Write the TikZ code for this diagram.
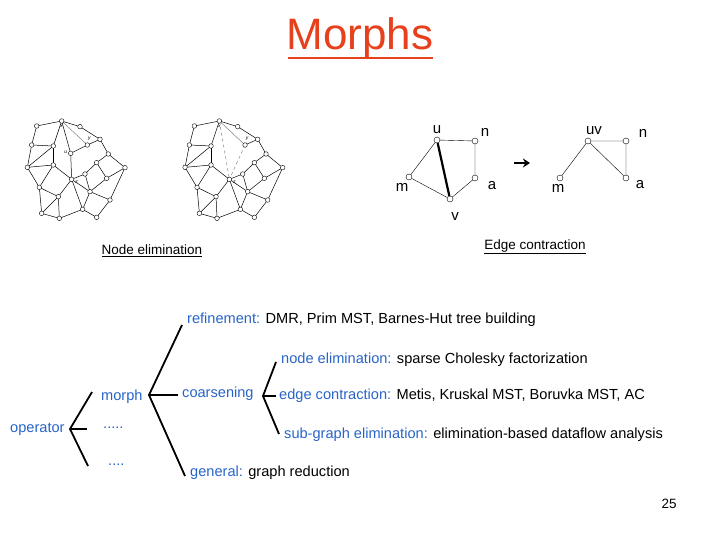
\documentclass[tikz,border=0pt]{standalone}
\usepackage{fontspec}
\setmainfont{Liberation Sans}
\usetikzlibrary{arrows.meta}
\definecolor{tblue}{RGB}{40,100,200}
\definecolor{tred}{RGB}{230,64,28}
\begin{document}
\begin{tikzpicture}[x=1pt,y=-1pt,
  v/.style={circle,draw,inner sep=0pt,minimum size=6pt,fill=white},
  sv/.style={circle,draw,inner sep=0pt,minimum size=4.6pt,fill=white,line width=0.4pt},
  lbl/.style={font=\fontsize{15}{17}\selectfont},
  tb/.style={font=\fontsize{14.6}{16}\selectfont,anchor=west,inner sep=0pt},
  tl/.style={line width=1.8pt}]
\useasboundingbox (0,0) rectangle (720,540);
\node[text=tred,font=\fontsize{44}{48}\selectfont] (title) at (360,38) {Morphs};
\draw[tred,line width=1.2pt] (288,58) -- (433,58);
% meshes
\foreach \dx/\right in {0/0,157.7/1}{
\begin{scope}[xshift=\dx]
\foreach \n/\px/\py in {A/110/78,X/185/63,B/240/80,C/300/118,Y/262/135,D/95/135,E/160/138,F/325/162,G/82/202,H/160/195,Z/215/238,I/290/188,J/375/203,K/255/222,L/320/235,M/118/262,N/175/290,O/270/275,P/330/300,Q/125/340,R/178/355,S/248/328,T/290/352}
  \coordinate (m\n) at ({\px/3},{\py/3+100});
\ifnum\right=0 \coordinate (mU) at ({212/3},{160/3+100}); \fi
\begin{scope}[line width=0.5pt]
\foreach \a/\b in {A/X,X/B,B/C,C/Y,A/D,D/E,D/G,E/G,E/H,G/H,G/M,H/Z,X/E,C/F,F/I,F/J,I/K,K/Z,I/L,J/L,J/P,K/O,Z/O,L/O,O/P,O/S,M/N,M/Q,N/Q,N/R,Q/R,R/S,S/T,T/P,Z/N,Z/S,H/M}
  \draw (m\a) -- (m\b);
\draw[gray] (mX) -- (mY);
\ifnum\right=0
  \draw (mX) -- (mU) -- (mZ); \draw (mU) -- (mY); \draw[line width=1pt] (mE)--(mH);
\else
  \draw[gray,dashed] (mX) -- (mZ); \draw[gray,dashed] (mY) -- (mZ);
\fi
\foreach \n in {A,X,B,C,Y,D,E,F,G,H,Z,I,J,K,L,M,N,O,P,Q,R,S,T} \node[sv] at (m\n) {};
\ifnum\right=0 \node[sv] at (mU) {}; \node[font=\tiny\itshape] at ([xshift=-5pt,yshift=1pt]mU) {u};\fi
\node[font=\tiny\itshape] at ([yshift=-5pt]mX) {x};
\node[font=\tiny\itshape] at ([xshift=2pt,yshift=6pt]mY) {y};
\node[font=\tiny\itshape] at ([xshift=5pt,yshift=-3pt]mZ) {z};
\end{scope}
\end{scope}}
% edge contraction graphs
\node[v] (u) at (437,140) {};
\node[v] (n) at (475,141) {};
\node[v] (m) at (409,177) {};
\node[v] (a) at (475,178) {};
\node[v] (vv) at (450,199) {};
\draw (u) -- (n) -- (a) -- (vv) -- (m) -- (u);
\draw[line width=2.2pt] (u) -- (vv);
\node[lbl] (lu) at (437,130) {u};
\node[lbl] (ln) at (485,132) {n};
\node[lbl] (lm) at (402,187) {m};
\node[lbl] (la) at (492,186) {a};
\node[lbl] (lv) at (455,217) {v};
\coordinate (ar1) at (514,163); \coordinate (ar2) at (530,163);
\draw[line width=2pt,-{Stealth[length=7pt,width=9pt]}] (ar1) -- (ar2);
\node[v] (uv) at (588,141) {};
\node[v] (n2) at (626,141) {};
\node[v] (m2) at (560,178) {};
\node[v] (a2) at (626,178) {};
\draw (uv) -- (n2) -- (a2) -- (uv) -- (m2);
\node[lbl] (luv) at (594,131) {uv};
\node[lbl] (ln2) at (643,133) {n};
\node[lbl] (lm2) at (558,188) {m};
\node[lbl] (la2) at (640,185) {a};
\node[font=\fontsize{13.5}{15}\selectfont] (ne) at (152,251) {\underline{Node elimination}};
\node[font=\fontsize{13.5}{15}\selectfont] (ec) at (535,247) {\underline{Edge contraction}};
% tree
\node[tb,text=tblue] (op) at (10,429) {operator};
\node[tb,text=tblue] (morph) at (101,397) {morph};
\node[tb,text=tblue] (d1) at (103,428) {.....};
\node[tb,text=tblue] (d2) at (108,465) {....};
\node[tb,text=tblue] (coars) at (182,394) {coarsening};
\node[tb] (ref) at (187,320) {\textcolor{tblue}{refinement:} DMR, Prim MST, Barnes-Hut tree building};
\node[tb] (nel) at (281,360) {\textcolor{tblue}{node elimination:} sparse Cholesky factorization};
\node[tb] (edc) at (279,396) {\textcolor{tblue}{edge contraction:} Metis, Kruskal MST, Boruvka MST, AC};
\node[tb] (sub) at (284,435) {\textcolor{tblue}{sub-graph elimination:} elimination-based dataflow analysis};
\node[tb] (gen) at (190,473) {\textcolor{tblue}{general:} graph reduction};
\coordinate (o) at (70,429);
\draw[tl] (92,392) -- (o) -- (88,466); \draw[tl] (o) -- (87,429);
\coordinate (mp) at (149,395);
\draw[tl] (182,325) -- (mp) -- (185,476); \draw[tl] (mp) -- (178,395);
\coordinate (cp) at (263,396);
\draw[tl] (276,362) -- (cp) -- (279,434); \draw[tl] (cp) -- (276,396);
\node[font=\fontsize{13.5}{15}\selectfont] (pg) at (669,504) {25};
\end{tikzpicture}
\end{document}
